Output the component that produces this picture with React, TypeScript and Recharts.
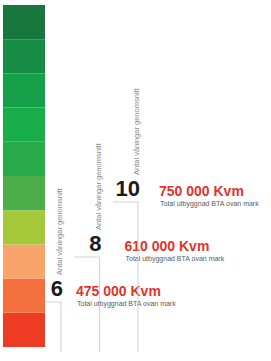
import React from "react";
import { BarChart, Bar, XAxis, YAxis } from "recharts";

// Colour scale (bottom to top)
const scaleLevels = [1, 2, 3, 4, 5, 6, 7, 8, 9, 10];
const scaleValues = [1, 1, 1, 1, 1, 1, 1, 1, 1, 1];
const scaleColors = [
  "#ee3b24",
  "#f4713f",
  "#f9a46b",
  "#a6c83b",
  "#4cae4a",
  "#2aab4a",
  "#19ad4c",
  "#16a049",
  "#168c44",
  "#18773d",
];

// Building steps
const floors = [6, 8, 10];
const areaKvm = [475000, 610000, 750000];
const stepHeights = [50, 95, 150];
const floorLabel = "Antal våningar genomsnitt";
const areaLabel = "Total utbyggnad BTA ovan mark";

const labelDx = [15, 25, 21];
const FONT = "'Liberation Sans', Arial, sans-serif";

const stepData = floors.map((f, i) => ({
  floors: String(f),
  height: stepHeights[i],
  area: areaKvm[i],
}));

const scaleRow: Record<string, any> = { name: "scale" };
scaleLevels.forEach((l, i) => {
  scaleRow["l" + l] = scaleValues[i];
});

const fmt = (n: number) =>
  String(n).replace(/\B(?=(\d{3})+(?!\d))/g, " ") + " Kvm";

const StepShape = (props: any) => {
  const { x, y, width, height, payload, index } = props;
  const right = x + width;
  const top = y;
  const bottom = y + height;
  const base = top - 6;
  const dx = labelDx[index] ?? 18;
  return (
    <g>
      <path
        d={`M${x},${top}H${right}V${bottom}`}
        fill="none"
        stroke="#d2d2d2"
        strokeWidth={1}
      />
      <text
        x={right + 2}
        y={base}
        textAnchor="end"
        fontFamily={FONT}
        fontWeight="bold"
        fontSize={22}
        fill="#1a1a1a"
      >
        {payload.floors}
      </text>
      <text
        x={right + 1}
        y={base - 21}
        transform={`rotate(-90, ${right + 1}, ${base - 21})`}
        textAnchor="start"
        fontFamily={FONT}
        fontSize={7.5}
        fill="#8a8a8a"
      >
        {floorLabel}
      </text>
      <text
        x={right + dx}
        y={base}
        fontFamily={FONT}
        fontWeight="bold"
        fontSize={14}
        fill="#e5322b"
      >
        {fmt(payload.area)}
      </text>
      <text
        x={right + dx + 1}
        y={base + 9.5}
        fontFamily={FONT}
        fontSize={7}
        fill="#5a5a5a"
      >
        {areaLabel}
      </text>
    </g>
  );
};

export default function App() {
  return (
    <div
      style={{
        position: "absolute",
        left: 0,
        top: 0,
        width: 271,
        height: 361,
        background: "#fff",
        overflow: "hidden",
      }}
    >
      <div style={{ position: "absolute", left: 0, top: 0 }}>
        <BarChart
          width={271}
          height={361}
          data={stepData}
          margin={{ top: 2, bottom: 9, left: 29, right: 126.5 }}
          barSize={25}
        >
          <XAxis dataKey="floors" hide />
          <YAxis hide domain={[0, 350]} />
          <Bar
            dataKey="height"
            isAnimationActive={false}
            shape={<StepShape />}
          />
        </BarChart>
      </div>
      <div style={{ position: "absolute", left: 3, top: 5 }}>
        <BarChart
          width={42}
          height={342}
          data={[scaleRow]}
          margin={{ top: 0, bottom: 0, left: 0, right: 0 }}
          barCategoryGap={0}
        >
          <XAxis dataKey="name" hide />
          <YAxis hide domain={[0, 10]} />
          {scaleLevels.map((l, i) => (
            <Bar
              key={l}
              dataKey={"l" + l}
              stackId="s"
              fill={scaleColors[i]}
              isAnimationActive={false}
            />
          ))}
        </BarChart>
      </div>
    </div>
  );
}
